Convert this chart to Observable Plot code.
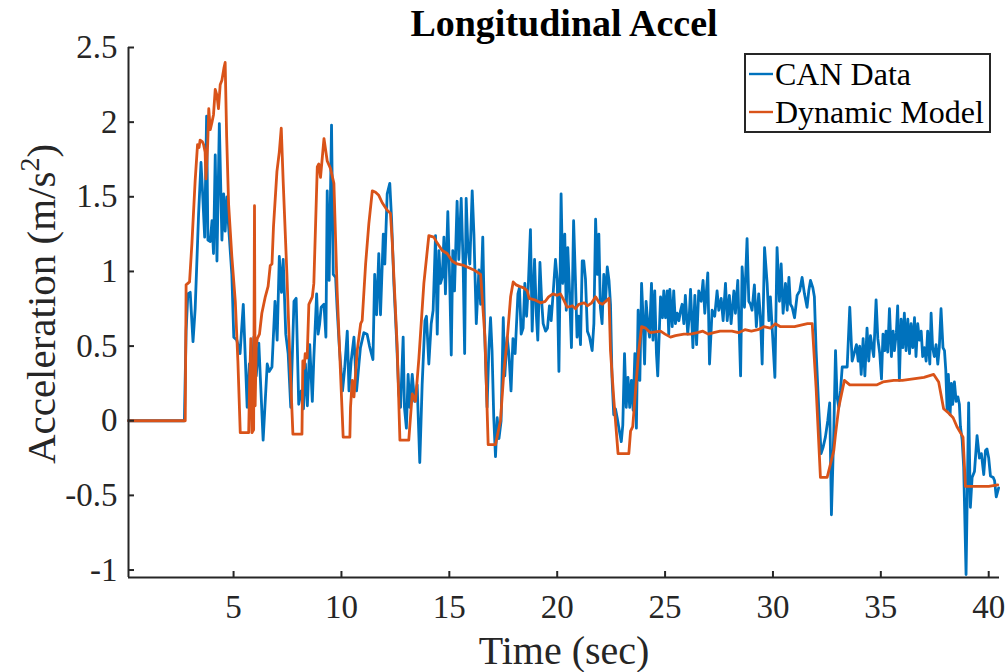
<!DOCTYPE html>
<html><head><meta charset="utf-8">
<script src="https://cdn.jsdelivr.net/npm/d3@7"></script>
<script src="https://cdn.jsdelivr.net/npm/@observablehq/plot@0.6"></script>
<style>html,body{margin:0;padding:0;background:#fff;}</style>
</head><body><div id="chart"></div>
<script>
const chartTitle = "Longitudinal Accel";
const xLabel = "Time (sec)";
const yLabelText = "Acceleration (m/s";
const yLabelSup = "2";
const seriesNames = ["CAN Data", "Dynamic Model"];
const seriesColors = ["#0072BD", "#D95319"];
const xTicks = [5, 10, 15, 20, 25, 30, 35, 40];
const xTickLabels = ["5", "10", "15", "20", "25", "30", "35", "40"];
const yTicks = [-1, -0.5, 0, 0.5, 1, 1.5, 2, 2.5];
const yTickLabels = ["-1", "-0.5", "0", "0.5", "1", "1.5", "2", "2.5"];
const xDomain = [0.13, 40.5];
const yDomain = [-1.05, 2.5];

// CAN Data: [time (s), acceleration (m/s^2)]
const canData = [
[0.13,0],[2.72,0],[2.80,0.60],[2.88,0.85],[2.99,0.86],[3.12,0.53],[3.22,0.75],[3.38,1.39],[3.49,1.73],[3.56,1.54],
[3.66,1.23],[3.75,2.04],[3.81,1.21],[3.92,1.20],[4.00,1.34],[4.07,1.12],[4.15,1.78],[4.23,1.07],[4.34,1.99],[4.46,1.21],
[4.54,1.52],[4.61,1.27],[4.69,1.50],[4.77,1.30],[4.92,0.98],[5.01,0.56],[5.15,0.54],[5.30,0.45],[5.45,0.78],[5.63,0.09],
[5.73,0.38],[5.82,0.13],[5.94,0.56],[6.05,0.30],[6.17,0.52],[6.37,-0.13],[6.56,0.38],[6.65,0.33],[6.78,0.36],[6.92,0.80],
[7.02,0.54],[7.12,1.10],[7.22,0.86],[7.30,1.08],[7.42,0.58],[7.53,0.45],[7.65,0.09],[7.80,0.80],[7.90,0.82],[8.02,0.11],
[8.14,0.20],[8.24,0.08],[8.33,0.38],[8.42,0.10],[8.53,0.51],[8.65,0.13],[8.72,0.42],[8.85,0.85],[8.92,0.58],[8.99,0.65],
[9.06,0.76],[9.19,0.78],[9.28,0.56],[9.34,1.54],[9.43,0.94],[9.54,1.98],[9.62,0.98],[9.73,0.96],[9.80,0.75],[9.90,0.50],
[10.05,0.20],[10.15,0.35],[10.27,0.60],[10.35,0.20],[10.45,0.40],[10.58,0.56],[10.70,0.20],[10.81,0.38],[10.88,0.49],[11.04,0.59],
[11.19,0.58],[11.30,0.50],[11.46,0.41],[11.54,0.98],[11.63,0.71],[11.73,1.12],[11.81,0.71],[11.94,1.25],[12.01,1.05],[12.12,1.52],
[12.24,1.59],[12.32,1.36],[12.43,0.92],[12.55,0.56],[12.66,0.18],[12.74,0.09],[12.86,0.56],[12.92,0.09],[13.01,-0.05],[13.09,0.31],
[13.17,0.09],[13.28,0.31],[13.39,0.13],[13.51,0.24],[13.63,-0.28],[13.74,0.24],[13.87,0.67],[13.94,0.70],[14.05,0.38],[14.16,0.65],
[14.25,0.74],[14.36,1.24],[14.44,0.58],[14.52,1.14],[14.59,0.92],[14.67,0.96],[14.75,1.23],[14.82,0.85],[14.93,1.40],[15.02,0.92],
[15.09,0.44],[15.16,1.14],[15.24,0.87],[15.36,1.47],[15.44,1.08],[15.55,1.49],[15.64,1.05],[15.71,0.45],[15.78,1.49],[15.86,1.16],
[15.95,1.05],[16.06,1.54],[16.14,1.25],[16.25,0.65],[16.37,1.01],[16.45,0.78],[16.55,1.23],[16.64,0.58],[16.75,0.09],[16.83,0.47],
[16.91,0.69],[16.98,0.47],[17.06,0.02],[17.14,-0.24],[17.22,0.02],[17.30,-0.12],[17.40,0.00],[17.50,0.69],[17.57,0.30],[17.68,0.56],
[17.76,0.45],[17.86,0.20],[17.95,0.55],[18.05,0.45],[18.18,0.85],[18.25,0.89],[18.33,0.58],[18.42,0.62],[18.50,0.92],[18.58,0.70],
[18.66,0.90],[18.76,1.28],[18.84,0.60],[18.95,1.08],[19.04,0.69],[19.10,0.54],[19.20,1.06],[19.28,0.80],[19.35,0.65],[19.46,0.60],
[19.55,0.62],[19.64,0.77],[19.72,0.67],[19.81,0.85],[19.92,1.08],[20.00,0.95],[20.08,0.33],[20.18,1.52],[20.26,0.92],[20.35,1.25],
[20.42,0.74],[20.49,1.16],[20.57,0.87],[20.66,0.49],[20.76,1.34],[20.85,0.92],[20.92,0.56],[21.00,0.70],[21.08,0.51],[21.16,1.07],
[21.23,1.07],[21.31,0.95],[21.40,0.60],[21.50,0.56],[21.62,0.47],[21.70,0.65],[21.78,1.35],[21.86,0.98],[21.93,1.25],[22.00,0.76],
[22.08,0.65],[22.16,0.98],[22.24,0.80],[22.32,1.03],[22.40,0.94],[22.47,0.78],[22.54,0.29],[22.62,0.04],[22.70,0.08],[22.78,0.02],
[22.86,-0.05],[22.97,-0.14],[23.04,-0.03],[23.12,0.45],[23.20,0.09],[23.28,0.29],[23.36,0.09],[23.44,0.27],[23.52,0.07],[23.60,0.45],
[23.67,-0.05],[23.75,0.74],[23.83,0.27],[23.91,0.92],[23.98,0.69],[24.05,0.38],[24.12,0.80],[24.20,0.65],[24.28,0.56],[24.37,0.92],
[24.44,0.54],[24.52,0.87],[24.60,0.45],[24.66,0.30],[24.79,0.83],[24.88,0.69],[24.94,0.87],[25.02,0.69],[25.10,0.87],[25.17,0.58],
[25.22,0.88],[25.33,0.63],[25.40,0.87],[25.48,0.65],[25.56,0.72],[25.64,0.67],[25.72,0.74],[25.79,0.78],[25.87,0.65],[25.94,0.84],
[26.05,0.58],[26.12,0.70],[26.18,0.88],[26.29,0.49],[26.38,0.84],[26.46,0.51],[26.56,0.87],[26.67,0.80],[26.76,0.94],[26.84,0.72],
[26.98,0.99],[27.06,0.38],[27.18,0.74],[27.30,0.70],[27.41,0.87],[27.49,0.74],[27.60,0.82],[27.69,0.67],[27.80,0.92],[27.88,0.67],
[27.98,0.84],[28.06,0.65],[28.19,0.87],[28.26,0.72],[28.37,0.94],[28.50,0.30],[28.57,1.03],[28.68,0.76],[28.80,1.22],[28.88,0.80],
[28.96,0.78],[29.03,0.74],[29.14,0.91],[29.23,0.63],[29.34,0.85],[29.42,0.69],[29.50,0.38],[29.61,1.16],[29.73,0.92],[29.81,0.67],
[29.88,0.83],[29.96,0.63],[30.09,0.29],[30.19,1.16],[30.30,0.80],[30.38,1.05],[30.47,0.72],[30.58,0.92],[30.66,0.74],[30.74,0.96],
[30.81,0.78],[30.89,0.76],[31.00,0.69],[31.12,0.84],[31.24,0.87],[31.35,0.96],[31.46,0.85],[31.58,0.76],[31.66,0.87],[31.74,0.94],
[31.85,0.89],[31.92,0.83],[32.00,0.47],[32.12,0.09],[32.23,-0.22],[32.32,-0.18],[32.43,-0.11],[32.54,0.00],[32.63,0.12],[32.71,-0.63],
[32.82,-0.07],[32.90,0.47],[32.97,0.16],[33.05,0.09],[33.13,0.20],[33.21,0.36],[33.31,0.36],[33.44,0.36],[33.56,0.76],[33.67,0.40],
[33.78,0.46],[33.87,0.51],[33.95,0.40],[34.02,0.50],[34.09,0.31],[34.18,0.55],[34.26,0.30],[34.36,0.62],[34.44,0.40],[34.52,0.57],
[34.60,0.49],[34.67,0.43],[34.78,0.81],[34.86,0.55],[34.95,0.45],[35.03,0.28],[35.10,0.58],[35.18,0.47],[35.24,0.60],[35.32,0.46],
[35.40,0.75],[35.49,0.43],[35.57,0.60],[35.63,0.47],[35.72,0.59],[35.78,0.77],[35.86,0.27],[35.94,0.68],[36.02,0.49],[36.09,0.72],
[36.17,0.47],[36.25,0.68],[36.33,0.45],[36.40,0.65],[36.48,0.49],[36.56,0.69],[36.63,0.43],[36.71,0.65],[36.79,0.54],[36.87,0.60],
[36.94,0.43],[37.02,0.49],[37.10,0.40],[37.17,0.60],[37.27,0.38],[37.33,0.72],[37.40,0.49],[37.48,0.43],[37.56,0.51],[37.64,0.38],
[37.71,0.49],[37.79,0.75],[37.88,0.49],[37.95,0.47],[38.01,0.34],[38.07,0.07],[38.13,0.31],[38.21,0.04],[38.27,0.25],[38.33,0.11],
[38.41,0.26],[38.49,0.13],[38.57,0.16],[38.64,0.11],[38.69,-0.04],[38.77,-0.13],[38.84,-0.31],[38.95,-1.03],[39.01,-0.45],[39.07,0.12],
[39.15,-0.58],[39.23,-0.38],[39.34,-0.34],[39.46,-0.10],[39.57,-0.25],[39.66,-0.22],[39.77,-0.36],[39.85,-0.20],[39.92,-0.19],[40.00,-0.25],
[40.08,-0.37],[40.21,-0.38],[40.27,-0.40],[40.35,-0.51],[40.46,-0.45]
];

// Dynamic Model: [time (s), acceleration (m/s^2)]
const modelData = [
[0.13,0],[2.76,0],[2.80,0.91],[2.96,0.93],[3.07,1.19],[3.22,1.61],[3.33,1.85],[3.40,1.83],[3.45,1.88],[3.55,1.87],
[3.61,1.85],[3.68,1.80],[3.72,1.62],[3.80,1.85],[3.85,2.09],[3.92,1.95],[4.00,2.00],[4.07,2.05],[4.15,2.22],[4.23,2.18],
[4.30,2.09],[4.38,2.25],[4.46,2.28],[4.55,2.36],[4.61,2.40],[4.68,1.90],[4.77,1.45],[4.92,1.10],[5.08,0.80],[5.20,0.40],
[5.31,-0.08],[5.70,-0.08],[5.75,0.30],[5.80,0.55],[5.85,-0.08],[5.93,-0.06],[5.97,1.44],[6.00,0.10],[6.05,0.50],[6.10,0.55],
[6.20,0.58],[6.31,0.72],[6.47,0.83],[6.60,0.90],[6.70,1.04],[6.78,1.05],[6.85,1.30],[7.01,1.67],[7.12,1.80],[7.21,1.96],
[7.30,1.60],[7.47,0.99],[7.60,0.45],[7.75,-0.09],[8.17,-0.09],[8.21,0.40],[8.27,0.35],[8.32,0.45],[8.41,0.42],[8.49,0.78],
[8.65,0.83],[8.72,0.92],[8.88,1.70],[8.95,1.72],[9.03,1.63],[9.19,1.89],[9.34,1.74],[9.49,1.69],[9.65,1.59],[9.80,0.87],
[10.08,-0.11],[10.39,-0.11],[10.42,0.09],[10.50,0.27],[10.58,0.16],[10.73,0.47],[10.89,0.65],[10.96,0.67],[11.12,1.05],[11.27,1.32],
[11.43,1.54],[11.58,1.53],[11.73,1.51],[11.89,1.46],[12.12,1.41],[12.27,1.39],[12.35,1.21],[12.58,0.51],[12.71,-0.13],[13.12,-0.13],
[13.28,0.18],[13.43,0.13],[13.59,0.42],[13.82,0.92],[14.05,1.24],[14.28,1.23],[14.44,1.19],[14.67,1.14],[14.90,1.12],[15.13,1.07],
[15.36,1.05],[15.67,1.04],[16.14,1.01],[16.45,0.98],[16.65,0.56],[16.80,-0.16],[17.14,-0.16],[17.37,0.00],[17.53,0.33],[17.68,0.54],
[17.84,0.83],[17.96,0.93],[18.10,0.91],[18.25,0.90],[18.45,0.89],[18.61,0.87],[18.70,0.82],[18.95,0.81],[19.23,0.79],[19.45,0.80],
[19.60,0.83],[19.80,0.85],[20.00,0.84],[20.15,0.85],[20.30,0.81],[20.46,0.76],[20.70,0.77],[20.85,0.75],[21.00,0.78],[21.25,0.79],
[21.40,0.77],[21.60,0.79],[21.78,0.83],[21.95,0.79],[22.10,0.78],[22.25,0.80],[22.40,0.82],[22.47,0.47],[22.62,0.15],[22.82,-0.22],
[23.32,-0.22],[23.40,-0.07],[23.50,-0.04],[23.63,0.20],[23.78,0.47],[23.91,0.63],[24.10,0.62],[24.32,0.59],[24.79,0.60],[25.00,0.58],
[25.25,0.56],[25.48,0.57],[25.87,0.58],[26.18,0.58],[26.50,0.59],[26.75,0.60],[27.00,0.58],[27.25,0.59],[27.55,0.60],[27.80,0.60],
[28.10,0.60],[28.40,0.59],[28.70,0.61],[29.00,0.60],[29.30,0.61],[29.58,0.63],[29.88,0.62],[30.11,0.65],[30.35,0.63],[30.66,0.63],
[31.00,0.63],[31.30,0.64],[31.60,0.65],[31.82,0.65],[32.00,0.22],[32.20,-0.38],[32.51,-0.38],[32.82,-0.20],[32.90,-0.09],[33.05,0.09],
[33.31,0.27],[33.56,0.24],[34.00,0.24],[34.50,0.24],[34.80,0.24],[35.10,0.26],[35.60,0.27],[36.00,0.27],[36.50,0.28],[37.00,0.29],
[37.45,0.31],[37.68,0.26],[37.91,0.08],[38.15,0.05],[38.35,0.02],[38.53,-0.04],[38.81,-0.11],[38.92,-0.44],[39.50,-0.44],[40.00,-0.44],
[40.42,-0.43]
];

const W = 1008, H = 672, mL = 128, mR = 9, mT = 47, mB = 95;
const plotW = W - mL - mR, plotH = H - mT - mB;
const FONT = "'Liberation Serif','Times New Roman',Times,serif";
const AX = "#262626";

const can = canData.map(([t, v]) => ({t, v}));
const model = modelData.map(([t, v]) => ({t, v}));

const svg = Plot.plot({
  width: W, height: H,
  marginLeft: mL, marginRight: mR, marginTop: mT, marginBottom: mB,
  style: {fontFamily: FONT, background: "#fff", color: AX},
  x: {domain: xDomain, axis: null},
  y: {domain: yDomain, axis: null},
  marks: [
    Plot.line(can, {x: "t", y: "v", stroke: seriesColors[0], strokeWidth: 2.8}),
    Plot.line(model, {x: "t", y: "v", stroke: seriesColors[1], strokeWidth: 2.8}),
    Plot.ruleX([xDomain[0]], {stroke: AX, strokeWidth: 2}),
    Plot.ruleY([yDomain[0]], {stroke: AX, strokeWidth: 2}),
    Plot.tickY(yTicks, {y: d => d, stroke: AX, strokeWidth: 2, insetRight: plotW - 6}),
    Plot.tickX(xTicks, {x: d => d, stroke: AX, strokeWidth: 2, insetTop: plotH - 6}),
    Plot.text(yTicks, {y: d => d, text: (d, i) => yTickLabels[i], frameAnchor: "left", textAnchor: "end", lineAnchor: "middle", dx: -11, fontSize: 33, fill: AX}),
    Plot.text(xTicks, {x: d => d, text: (d, i) => xTickLabels[i], frameAnchor: "bottom", lineAnchor: "bottom", dy: 40, fontSize: 33, fill: AX}),
    Plot.text([xLabel], {text: d => d, frameAnchor: "bottom", lineAnchor: "bottom", dy: 86, fontSize: 40, fill: AX}),
    Plot.text([chartTitle], {text: d => d, frameAnchor: "top", lineAnchor: "bottom", dy: -12, fontSize: 38, fontWeight: "bold", fill: "#000"})
  ]
});

const root = d3.select(svg);
// Y axis label with superscript
const yl = root.append("text")
  .attr("transform", `translate(55,${mT + plotH / 2 - 8}) rotate(-90)`)
  .attr("text-anchor", "middle")
  .attr("font-family", FONT).attr("font-size", 41).attr("fill", AX);
yl.append("tspan").text(yLabelText);
yl.append("tspan").attr("dy", -16).attr("font-size", 28).text(yLabelSup);
yl.append("tspan").attr("dy", 16).text(")");

// Legend
const lg = root.append("g").attr("font-family", FONT).attr("font-size", 32).attr("fill", "#000").attr("text-anchor", "start");
lg.append("rect").attr("x", 745).attr("y", 54).attr("width", 245).attr("height", 78)
  .attr("fill", "#fff").attr("stroke", AX).attr("stroke-width", 2);
seriesNames.forEach((name, i) => {
  const cy = 74 + i * 38;
  lg.append("line").attr("x1", 749).attr("x2", 773).attr("y1", cy).attr("y2", cy)
    .attr("stroke", seriesColors[i]).attr("stroke-width", 2.4);
  lg.append("text").attr("x", 775).attr("y", cy + 11).attr("text-anchor", "start").text(name);
});

document.getElementById("chart").appendChild(svg);
</script>
</body></html>
